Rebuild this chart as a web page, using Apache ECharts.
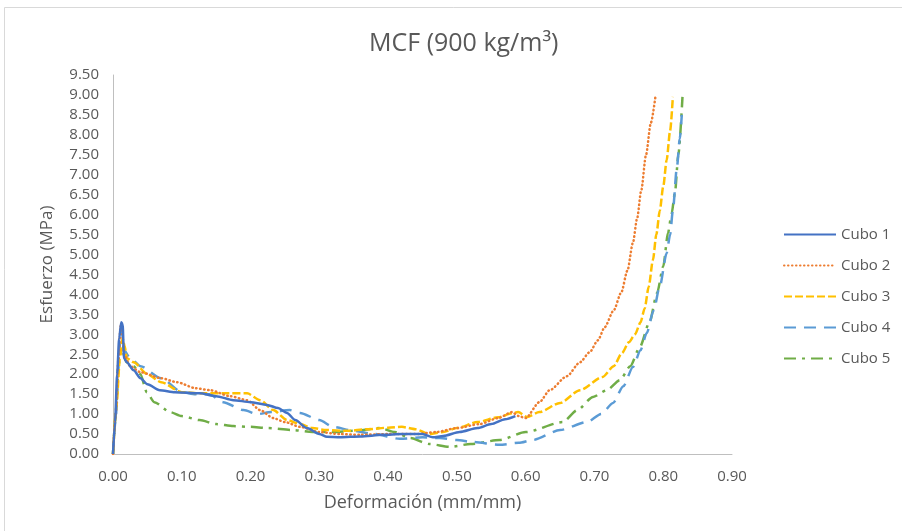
<!DOCTYPE html>
<html><head><meta charset="utf-8">
<script src="https://cdn.jsdelivr.net/npm/echarts@6/dist/echarts.min.js"></script>
<style>html,body{margin:0;padding:0;background:#fff}#c{width:902px;height:531px}</style>
</head><body><div id="c"></div>
<script>
const seriesNames = ['Cubo 1','Cubo 2','Cubo 3','Cubo 4','Cubo 5'];
const xTicks = [0,0.1,0.2,0.3,0.4,0.5,0.6,0.7,0.8,0.9];
const cubo1 = [[0,0],[0.003,0.8],[0.006,2.0],[0.009,2.9],[0.012,3.3],[0.014,3.25],[0.016,2.4],[0.02,2.3],[0.03,2.1],[0.04,1.9],[0.05,1.75],[0.068,1.6],[0.09,1.55],[0.126,1.52],[0.15,1.45],[0.175,1.35],[0.2,1.3],[0.224,1.23],[0.24,1.15],[0.253,1.03],[0.265,0.85],[0.282,0.65],[0.3,0.5],[0.311,0.43],[0.33,0.42],[0.36,0.44],[0.392,0.48],[0.42,0.5],[0.45,0.5],[0.465,0.42],[0.48,0.45],[0.504,0.55],[0.53,0.65],[0.55,0.75],[0.57,0.87],[0.585,0.95]];
const cubo2 = [[0,0],[0.004,1.0],[0.008,2.4],[0.011,3.2],[0.013,3.1],[0.016,2.5],[0.025,2.2],[0.04,2.05],[0.07,1.9],[0.093,1.8],[0.12,1.65],[0.141,1.6],[0.17,1.45],[0.195,1.35],[0.214,1.1],[0.233,0.9],[0.25,0.8],[0.272,0.68],[0.3,0.55],[0.33,0.5],[0.36,0.48],[0.4,0.5],[0.44,0.5],[0.47,0.55],[0.5,0.65],[0.533,0.75],[0.56,0.9],[0.58,1.05],[0.59,0.95],[0.6,0.9],[0.62,1.3],[0.635,1.6],[0.66,1.95],[0.679,2.3],[0.693,2.55],[0.705,2.85],[0.715,3.18],[0.728,3.6],[0.739,4.05],[0.748,4.6],[0.756,5.3],[0.762,5.9],[0.768,6.6],[0.775,7.5],[0.782,8.3],[0.789,9.0]];
const cubo3 = [[0,0],[0.005,1.2],[0.01,2.4],[0.014,2.9],[0.017,2.7],[0.02,2.4],[0.03,2.3],[0.05,2.0],[0.07,1.8],[0.1,1.55],[0.126,1.52],[0.16,1.52],[0.195,1.52],[0.214,1.35],[0.233,1.1],[0.253,0.85],[0.272,0.75],[0.29,0.65],[0.31,0.6],[0.34,0.58],[0.37,0.62],[0.4,0.66],[0.42,0.68],[0.44,0.62],[0.46,0.5],[0.48,0.55],[0.5,0.65],[0.53,0.8],[0.56,0.92],[0.58,1.02],[0.589,1.05],[0.602,0.93],[0.62,1.05],[0.65,1.28],[0.679,1.6],[0.712,1.93],[0.728,2.2],[0.74,2.53],[0.75,2.8],[0.759,3.0],[0.767,3.3],[0.773,3.65],[0.779,4.2],[0.785,4.86],[0.79,5.5],[0.795,6.1],[0.8,6.7],[0.805,7.37],[0.81,8.1],[0.814,8.95]];
const cubo4 = [[0,0],[0.004,0.9],[0.008,2.2],[0.011,3.0],[0.013,3.1],[0.016,2.6],[0.025,2.4],[0.04,2.2],[0.07,1.9],[0.1,1.55],[0.12,1.5],[0.14,1.5],[0.16,1.3],[0.19,1.1],[0.21,1.0],[0.23,1.05],[0.257,1.1],[0.272,1.03],[0.3,0.85],[0.32,0.68],[0.35,0.58],[0.38,0.5],[0.417,0.38],[0.45,0.42],[0.475,0.4],[0.5,0.35],[0.523,0.3],[0.562,0.23],[0.59,0.28],[0.61,0.35],[0.65,0.6],[0.689,0.8],[0.71,1.0],[0.727,1.28],[0.742,1.7],[0.756,2.18],[0.767,2.6],[0.776,3.03],[0.786,3.6],[0.795,4.2],[0.805,5.04],[0.81,5.5],[0.814,6.1],[0.82,7.2],[0.824,7.9],[0.827,8.5]];
const cubo5 = [[0,0],[0.004,1.0],[0.008,2.2],[0.011,2.6],[0.014,2.55],[0.02,2.3],[0.03,2.2],[0.04,2.0],[0.049,1.55],[0.06,1.3],[0.083,1.05],[0.1,0.95],[0.126,0.85],[0.15,0.75],[0.175,0.7],[0.2,0.68],[0.224,0.65],[0.262,0.6],[0.29,0.55],[0.32,0.55],[0.35,0.58],[0.388,0.65],[0.41,0.55],[0.432,0.4],[0.46,0.25],[0.49,0.18],[0.52,0.25],[0.562,0.35],[0.6,0.55],[0.654,0.8],[0.675,1.1],[0.698,1.43],[0.718,1.6],[0.737,1.85],[0.752,2.2],[0.766,2.68],[0.78,3.3],[0.791,4.03],[0.8,4.7],[0.807,5.54],[0.812,6.0],[0.817,6.54],[0.822,7.5],[0.828,8.95]];

const colors = ['#4472C4','#ED7D31','#FFC000','#5B9BD5','#70AD47'];
const dashes = ['solid',[0.5,3.5],[8,3],[12,8],[12,6,3,6]];
const caps = ['butt','round','butt','butt','butt'];
const datas = [cubo1,cubo2,cubo3,cubo4,cubo5];
const FONT = '"Open Sans", Lato, sans-serif';
const chart = echarts.init(document.getElementById('c'));
chart.setOption({
  animation:false,
  backgroundColor:'#fff',
  graphic:[{type:'rect',shape:{x:4.5,y:7.5,width:1000,height:1000},style:{fill:'none',stroke:'#D9D9D9',lineWidth:1},silent:true}],
  title:{text:'MCF (900 kg/m³)',left:364,top:26,textStyle:{fontFamily:FONT,fontSize:25,fontWeight:'normal',color:'#595959'}},
  legend:{orient:'vertical',left:778,top:222,itemWidth:52,itemHeight:14,itemGap:16,
    itemStyle:{opacity:0},
    textStyle:{fontFamily:FONT,fontSize:15,color:'#595959'},data:seriesNames},
  grid:{left:113,right:170,top:75,bottom:77},
  xAxis:{type:'value',min:0,max:0.9,interval:0.1,name:'Deformación (mm/mm)',nameLocation:'middle',nameGap:40,
    nameTextStyle:{fontFamily:FONT,fontSize:18,color:'#595959'},
    axisLine:{lineStyle:{color:'#BFBFBF',width:1}},axisTick:{show:false},splitLine:{show:false},
    axisLabel:{fontFamily:FONT,fontSize:15,color:'#595959',margin:15,formatter:v=>v.toFixed(2)}},
  yAxis:{type:'value',min:0,max:9.5,interval:0.5,name:'Esfuerzo (MPa)',nameLocation:'middle',nameGap:57,
    nameTextStyle:{fontFamily:FONT,fontSize:17,color:'#595959'},
    axisLine:{show:true,lineStyle:{color:'#BFBFBF',width:1}},axisTick:{show:false},splitLine:{show:false},
    axisLabel:{fontFamily:FONT,fontSize:15,color:'#595959',margin:14,formatter:v=>v.toFixed(2)}},
  series: datas.map((d,i)=>({name:seriesNames[i],type:'line',data:d,showSymbol:false,symbol:'none',
    smooth:0.25,smoothMonotone:'x',
    color:colors[i],lineStyle:{color:colors[i],width:2.5,type:dashes[i],cap:caps[i]},z:10-i}))
});
</script></body></html>
